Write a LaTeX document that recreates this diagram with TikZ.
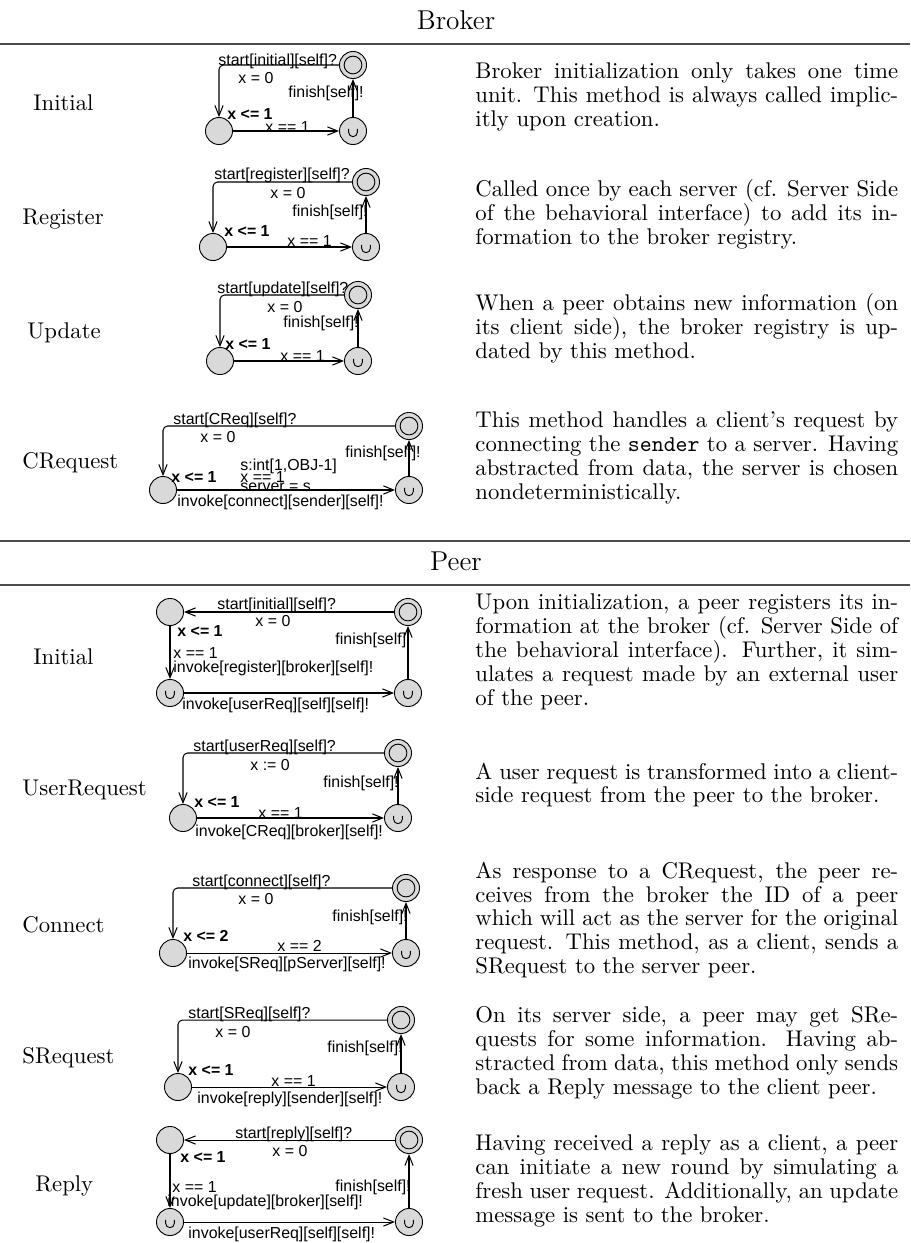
\documentclass[tikz,border=0pt]{standalone}
\usepackage{fontspec}
\newfontfamily\uppaalfont{Liberation Sans}
\usepackage{tikz}
\usetikzlibrary{arrows.meta}

\begin{document}
\begin{tikzpicture}[x=0.44pt, y=-0.44pt]
%
% Tabell: metod | automat (UPPAAL) | beskrivning
%
\tikzstyle{loc} = [circle, draw=black, fill=gray!30, minimum size=11.9pt, inner sep=0pt]
\tikzstyle{init} = [loc, path picture={\draw (path picture bounding box.center) circle (3.9pt);}]
\tikzstyle{urgent} = [loc, path picture={\draw ([shift={(-1.9pt,0.9pt)}]path picture bounding box.center) -- ++(0pt,-1.5pt) arc[start angle=180, end angle=360, radius=1.9pt] -- ++(0pt,1.5pt);}]
\tikzstyle{edge} = [line width=0.45pt, -{Straight Barb[length=4.5pt,width=3.6pt]}]
\tikzstyle{lab} = [anchor=west, inner sep=0pt, font=\uppaalfont\fontsize{7}{7}\selectfont]
\tikzstyle{inv} = [lab, font=\uppaalfont\bfseries\fontsize{7}{7}\selectfont]
\tikzstyle{row} = [anchor=west, inner sep=0pt, font=\fontsize{10}{12}\selectfont]
\tikzstyle{desc} = [anchor=west, inner sep=0pt, text width=186pt, align=justify, font=\fontsize{10}{10.5}\selectfont]
\tikzstyle{head} = [inner sep=0pt, font=\large]
\tikzstyle{rule} = [line width=0.8pt, draw=gray!60!black]
\useasboundingbox (0,0) rectangle (910,1243);

% Headers
\node (brokerHead) [head] at (456,20) {Broker};
\draw [rule] (0,44) -- (910,44);
\draw [rule] (0,541) -- (910,541);
\node (peerHead) [head] at (456,561) {Peer};
\draw [rule] (0,585) -- (910,585);

% Broker: Initial
\node (iniRow) [row] at (33,103) {Initial};
\node (iniIdle) [init] at (353,65) {};
\node (iniWait) [loc] at (219,131) {};
\node (iniDone) [urgent] at (353,131) {};
\draw [edge, rounded corners=2pt] (iniIdle.west) -| (iniWait.north);
\draw [edge] (iniWait) -- (iniDone);
\draw [edge] (iniDone) -- (iniIdle);
\node (iniSync) [lab] at (218,61) {start[initial][self]?};
\node (iniUpd) [lab] at (238,78) {x = 0};
\node (iniFin) [lab] at (288,93) {finish[self]!};
\node (iniInv) [inv] at (227,114) {x <= 1};
\node (iniGrd) [lab] at (265,127) {x == 1};
\node (iniText) [desc] at (475,97) {Broker initialization only takes one time\linebreak unit. This method is always called implic-\linebreak itly upon creation.};

% Broker: Register
\node (regRow) [row] at (22,219) {Register};
\node (regIdle) [init] at (366,182) {};
\node (regWait) [loc] at (213,247) {};
\node (regDone) [urgent] at (366,247) {};
\draw [edge, rounded corners=2pt] (regIdle.west) -| (regWait.north);
\draw [edge] (regWait) -- (regDone);
\draw [edge] (regDone) -- (regIdle);
\node (regSync) [lab] at (214,175) {start[register][self]?};
\node (regUpd) [lab] at (270,193) {x = 0};
\node (regFin) [lab] at (292,212) {finish[self]!};
\node (regInv) [inv] at (224,231) {x <= 1};
\node (regGrd) [lab] at (287,241) {x == 1};
\node (regText) [desc] at (475,214) {Called once by each server (cf. Server Side\linebreak of the behavioral interface) to add its in-\linebreak formation to the broker registry.};

% Broker: Update
\node (updRow) [row] at (27,333) {Update};
\node (updIdle) [init] at (358,295) {};
\node (updWait) [loc] at (220,361) {};
\node (updDone) [urgent] at (358,361) {};
\draw [edge, rounded corners=2pt] (updIdle.west) -| (updWait.north);
\draw [edge] (updWait) -- (updDone);
\draw [edge] (updDone) -- (updIdle);
\node (updSync) [lab] at (217,289) {start[update][self]?};
\node (updUpd) [lab] at (267,307) {x = 0};
\node (updFin) [lab] at (283,323) {finish[self]!};
\node (updInv) [inv] at (225,344) {x <= 1};
\node (updGrd) [lab] at (280,356) {x == 1};
\node (updText) [desc] at (475,328) {When a peer obtains new information (on\linebreak its client side), the broker registry is up-\linebreak dated by this method.};

% Broker: CRequest
\node (crqRow) [row] at (22,463) {CRequest};
\node (crqIdle) [init] at (409,426) {};
\node (crqWait) [loc] at (163,490) {};
\node (crqDone) [urgent] at (409,490) {};
\draw [edge, rounded corners=2pt] (crqIdle.west) -| (crqWait.north);
\draw [edge] (crqWait) -- (crqDone);
\draw [edge] (crqDone) -- (crqIdle);
\node (crqSync) [lab] at (173,420) {start[CReq][self]?};
\node (crqUpd) [lab] at (200,437) {x = 0};
\node (crqFin) [lab] at (345,453) {finish[self]!};
\node (crqInv) [inv] at (171,477) {x <= 1};
\node (crqSel) [lab] at (240,466) {s:int[1,OBJ-1]};
\node (crqGrd) [lab] at (240,477) {x == 1};
\node (crqSet) [lab] at (240,487) {server = s};
\node (crqSend) [lab] at (177,502) {invoke[connect][sender][self]!};
\node (crqText) [desc] at (475,458) {This method handles a client's request by\linebreak connecting the \texttt{sender} to a server. Having\linebreak abstracted from data, the server is chosen\linebreak nondeterministically.};

% Peer: Initial
\node (pinRow) [row] at (33,657) {Initial};
\node (pinIdle) [init] at (408,612) {};
\node (pinWait) [loc] at (170,612) {};
\node (pinReg) [urgent] at (170,693) {};
\node (pinUser) [urgent] at (408,693) {};
\draw [edge] (pinIdle) -- (pinWait);
\draw [edge] (pinWait) -- (pinReg);
\draw [edge] (pinReg) -- (pinUser);
\draw [edge] (pinUser) -- (pinIdle);
\node (pinSync) [lab] at (217,605) {start[initial][self]?};
\node (pinUpd) [lab] at (255,621) {x = 0};
\node (pinInv) [inv] at (177,631) {x <= 1};
\node (pinFin) [lab] at (335,640) {finish[self]!};
\node (pinGrd) [lab] at (173,653) {x == 1};
\node (pinSend) [lab] at (173,668) {invoke[register][broker][self]!};
\node (pinCall) [lab] at (182,705) {invoke[userReq][self][self]!};
\node (pinText) [desc] at (475,652) {Upon initialization, a peer registers its in-\linebreak formation at the broker (cf. Server Side of\linebreak the behavioral interface). Further, it sim-\linebreak ulates a request made by an external user\linebreak of the peer.};

% Peer: UserRequest
\node (urqRow) [row] at (22,790) {UserRequest};
\node (urqIdle) [init] at (398,753) {};
\node (urqWait) [loc] at (183,818) {};
\node (urqDone) [urgent] at (398,818) {};
\draw [edge, rounded corners=2pt] (urqIdle.west) -| (urqWait.north);
\draw [edge] (urqWait) -- (urqDone);
\draw [edge] (urqDone) -- (urqIdle);
\node (urqSync) [lab] at (193,747) {start[userReq][self]?};
\node (urqUpd) [lab] at (250,765) {x := 0};
\node (urqFin) [lab] at (323,783) {finish[self]!};
\node (urqInv) [inv] at (194,802) {x <= 1};
\node (urqGrd) [lab] at (258,813) {x == 1};
\node (urqSend) [lab] at (195,832) {invoke[CReq][broker][self]!};
\node (urqText) [desc] at (475,785) {A user request is transformed into a client-\linebreak side request from the peer to the broker.};

% Peer: Connect
\node (conRow) [row] at (22,925) {Connect};
\node (conIdle) [init] at (406,888) {};
\node (conWait) [loc] at (173,953) {};
\node (conDone) [urgent] at (406,953) {};
\draw [edge, rounded corners=2pt] (conIdle.west) -| (conWait.north);
\draw [edge] (conWait) -- (conDone);
\draw [edge] (conDone) -- (conIdle);
\node (conSync) [lab] at (192,882) {start[connect][self]?};
\node (conUpd) [lab] at (238,899) {x = 0};
\node (conFin) [lab] at (332,917) {finish[self]!};
\node (conInv) [inv] at (183,936) {x <= 2};
\node (conGrd) [lab] at (277,946) {x == 2};
\node (conSend) [lab] at (188,964) {invoke[SReq][pServer][self]!};
\node (conText) [desc] at (475,920) {As response to a CRequest, the peer re-\linebreak ceives from the broker the ID of a peer\linebreak which will act as the server for the original\linebreak request. This method, as a client, sends a\linebreak SRequest to the server peer.};

% Peer: SRequest
\node (srqRow) [row] at (22,1058) {SRequest};
\node (srqIdle) [init] at (401,1020) {};
\node (srqWait) [loc] at (178,1087) {};
\node (srqDone) [urgent] at (401,1087) {};
\draw [edge, rounded corners=2pt] (srqIdle.west) -| (srqWait.north);
\draw [edge] (srqWait) -- (srqDone);
\draw [edge] (srqDone) -- (srqIdle);
\node (srqSync) [lab] at (188,1014) {start[SReq][self]?};
\node (srqUpd) [lab] at (215,1032) {x = 0};
\node (srqFin) [lab] at (327,1048) {finish[self]!};
\node (srqInv) [inv] at (188,1070) {x <= 1};
\node (srqGrd) [lab] at (271,1081) {x == 1};
\node (srqSend) [lab] at (197,1099) {invoke[reply][sender][self]!};
\node (srqText) [desc] at (475,1053) {On its server side, a peer may get SRe-\linebreak quests for some information. Having ab-\linebreak stracted from data, this method only sends\linebreak back a Reply message to the client peer.};

% Peer: Reply
\node (rplRow) [row] at (35,1186) {Reply};
\node (rplIdle) [init] at (409,1140) {};
\node (rplWait) [loc] at (170,1140) {};
\node (rplUpd) [urgent] at (170,1222) {};
\node (rplUser) [urgent] at (409,1222) {};
\draw [edge] (rplIdle) -- (rplWait);
\draw [edge] (rplWait) -- (rplUpd);
\draw [edge] (rplUpd) -- (rplUser);
\draw [edge] (rplUser) -- (rplIdle);
\node (rplSync) [lab] at (235,1134) {start[reply][self]?};
\node (rplReset) [lab] at (272,1151) {x = 0};
\node (rplInv) [inv] at (180,1157) {x <= 1};
\node (rplFin) [lab] at (335,1187) {finish[self]!};
\node (rplGrd) [lab] at (172,1187) {x == 1};
\node (rplSend) [lab] at (167,1202) {invoke[update][broker][self]!};
\node (rplCall) [lab] at (188,1234) {invoke[userReq][self][self]!};
\node (rplText) [desc] at (475,1181) {Having received a reply as a client, a peer\linebreak can initiate a new round by simulating a\linebreak fresh user request. Additionally, an update\linebreak message is sent to the broker.};

\end{tikzpicture}
\end{document}
